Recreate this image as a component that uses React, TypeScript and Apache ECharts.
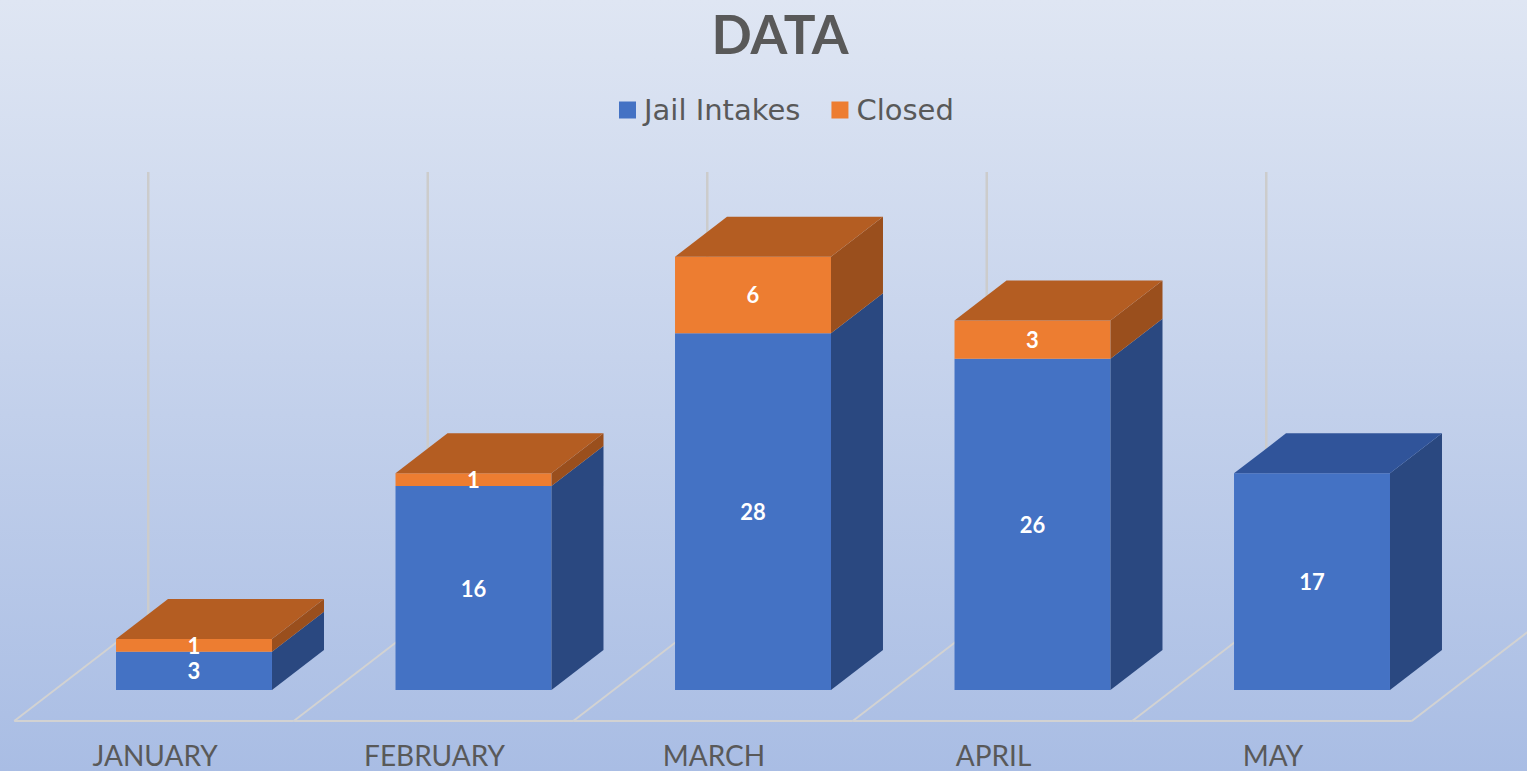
import React, { useEffect, useRef } from "react";
import * as echarts from "echarts";

const categories = ["JANUARY", "FEBRUARY", "MARCH", "APRIL", "MAY"];
const jailIntakes = [3, 16, 28, 26, 17];
const closed = [1, 1, 6, 3, 0];
const Y_MAX = 35;

const FONT = "Lato, 'Open Sans', sans-serif";
const LEGEND_FONT = "'DejaVu Sans', sans-serif";
const DX = 52;
const DY = -40;
const FLOOR_FRONT = [-40, 31];
const FLOOR_BACK = [94, -72];
const BAR_RATIO = 0.558;

const COLORS = {
  blueFront: "#4472C4",
  blueSide: "#2A4880",
  blueTop: "#30549A",
  orangeFront: "#ED7D31",
  orangeSide: "#9A4F1D",
  orangeTop: "#B45D22",
};

function makeBarRender(front: string, side: string, top: string) {
  return (params: any, api: any) => {
    const idx = api.value(0);
    const v = api.value(1);
    const base = api.value(2);
    const isTop = api.value(3) === 1;
    if (!v) return { type: "group", children: [] };
    const pb = api.coord([idx, base]);
    const pt = api.coord([idx, base + v]);
    const w = api.size([1, 0])[0] * BAR_RATIO;
    const x0 = pb[0] - w / 2;
    const x1 = pb[0] + w / 2;
    const yb = pb[1];
    const yt = pt[1];
    const children: any[] = [
      {
        type: "rect",
        shape: { x: x0, y: yt, width: w, height: yb - yt },
        style: { fill: front },
      },
      {
        type: "polygon",
        shape: {
          points: [
            [x1, yb],
            [x1, yt],
            [x1 + DX, yt + DY],
            [x1 + DX, yb + DY],
          ],
        },
        style: { fill: side },
      },
    ];
    if (isTop) {
      children.push({
        type: "polygon",
        shape: {
          points: [
            [x0, yt],
            [x1, yt],
            [x1 + DX, yt + DY],
            [x0 + DX, yt + DY],
          ],
        },
        style: { fill: top },
      });
    }
    children.push({
      type: "text",
      z2: 100,
      style: {
        text: String(v),
        x: pb[0],
        y: (yb + yt) / 2,
        align: "center",
        verticalAlign: "middle",
        fill: "#ffffff",
        font: `bold 22px ${FONT}`,
        lineHeight: 18,
      },
    });
    return { type: "group", children };
  };
}

function floorRender(params: any, api: any) {
  const idx = api.value(0);
  const c = api.coord([idx, 0]);
  const topPt = api.coord([idx, Y_MAX]);
  const band = api.size([1, 0])[0];
  const xl = c[0] - band / 2;
  const xr = c[0] + band / 2;
  const y0 = c[1];
  const lineStyle = { stroke: "#D2D2D2", lineWidth: 2 };
  const children: any[] = [
    {
      type: "line",
      shape: { x1: xl + FLOOR_FRONT[0], y1: y0 + FLOOR_FRONT[1], x2: xr + FLOOR_FRONT[0], y2: y0 + FLOOR_FRONT[1] },
      style: lineStyle,
    },
    {
      type: "line",
      shape: { x1: xl + FLOOR_FRONT[0], y1: y0 + FLOOR_FRONT[1], x2: xl + FLOOR_BACK[0], y2: y0 + FLOOR_BACK[1] },
      style: lineStyle,
    },
    {
      type: "line",
      shape: { x1: xl + FLOOR_BACK[0], y1: y0 + FLOOR_BACK[1], x2: xl + FLOOR_BACK[0], y2: topPt[1] + FLOOR_BACK[1] },
      style: { stroke: "#CCCCCC", lineWidth: 2.5 },
    },
  ];
  if (idx === categories.length - 1) {
    children.push({
      type: "line",
      shape: { x1: xr + FLOOR_FRONT[0], y1: y0 + FLOOR_FRONT[1], x2: xr + FLOOR_BACK[0], y2: y0 + FLOOR_BACK[1] },
      style: lineStyle,
    });
  }
  return { type: "group", children };
}

export default function App() {
  const ref = useRef<HTMLDivElement>(null);
  useEffect(() => {
    if (!ref.current) return;
    const chart = echarts.init(ref.current, null, { renderer: "svg" });
    const jailData = jailIntakes.map((v, i) => [i, v, 0, closed[i] ? 0 : 1]);
    const closedData = closed.map((v, i) => [i, v, jailIntakes[i], 1]);
    chart.setOption({
      animation: false,
      backgroundColor: {
        type: "linear",
        x: 0,
        y: 0,
        x2: 0,
        y2: 1,
        colorStops: [
          { offset: 0, color: "#DFE6F3" },
          { offset: 1, color: "#A9BDE4" },
        ],
      },
      title: {
        text: "DATA",
        left: 780,
        top: 8,
        padding: 0,
        textAlign: "center",
        textStyle: { fontFamily: FONT, fontWeight: "bold", fontSize: 53, lineHeight: 50, color: "#595959" },
      },
      legend: {
        data: ["Jail Intakes", "Closed"],
        left: 614,
        top: 90,
        icon: "rect",
        itemWidth: 17,
        itemHeight: 17,
        itemGap: 31,
        textStyle: { fontFamily: LEGEND_FONT, fontSize: 29, color: "#595959", lineHeight: 30, padding: [0, 0, 0, 3] },
      },
      grid: { left: 54.25, right: 1527 - 1451.75, top: 244, bottom: 81 },
      xAxis: {
        type: "category",
        data: categories,
        axisLine: { show: false },
        axisTick: { show: false },
        splitLine: { show: false },
        axisLabel: {
          fontFamily: FONT,
          fontSize: 28,
          color: "#595959",
          margin: 50,
          lineHeight: 30,
          padding: [0, 78, 0, 0],
        },
      },
      yAxis: {
        type: "value",
        min: 0,
        max: Y_MAX,
        interval: 5,
        show: false,
        splitLine: { show: false },
      },
      series: [
        {
          type: "custom",
          name: "floor",
          silent: true,
          renderItem: floorRender,
          data: categories.map((c, i) => [i]),
          encode: { x: 0 },
          z: 1,
        },
        {
          type: "custom",
          name: "Jail Intakes",
          itemStyle: { color: COLORS.blueFront },
          renderItem: makeBarRender(COLORS.blueFront, COLORS.blueSide, COLORS.blueTop),
          data: jailData,
          encode: { x: 0, y: 1 },
          z: 2,
        },
        {
          type: "custom",
          name: "Closed",
          itemStyle: { color: COLORS.orangeFront },
          renderItem: makeBarRender(COLORS.orangeFront, COLORS.orangeSide, COLORS.orangeTop),
          data: closedData,
          encode: { x: 0, y: 1 },
          z: 3,
        },
      ],
    });
    return () => chart.dispose();
  }, []);
  return (
    <div
      ref={ref}
      style={{ position: "fixed", left: 0, top: 0, width: 1527, height: 771 }}
    />
  );
}
